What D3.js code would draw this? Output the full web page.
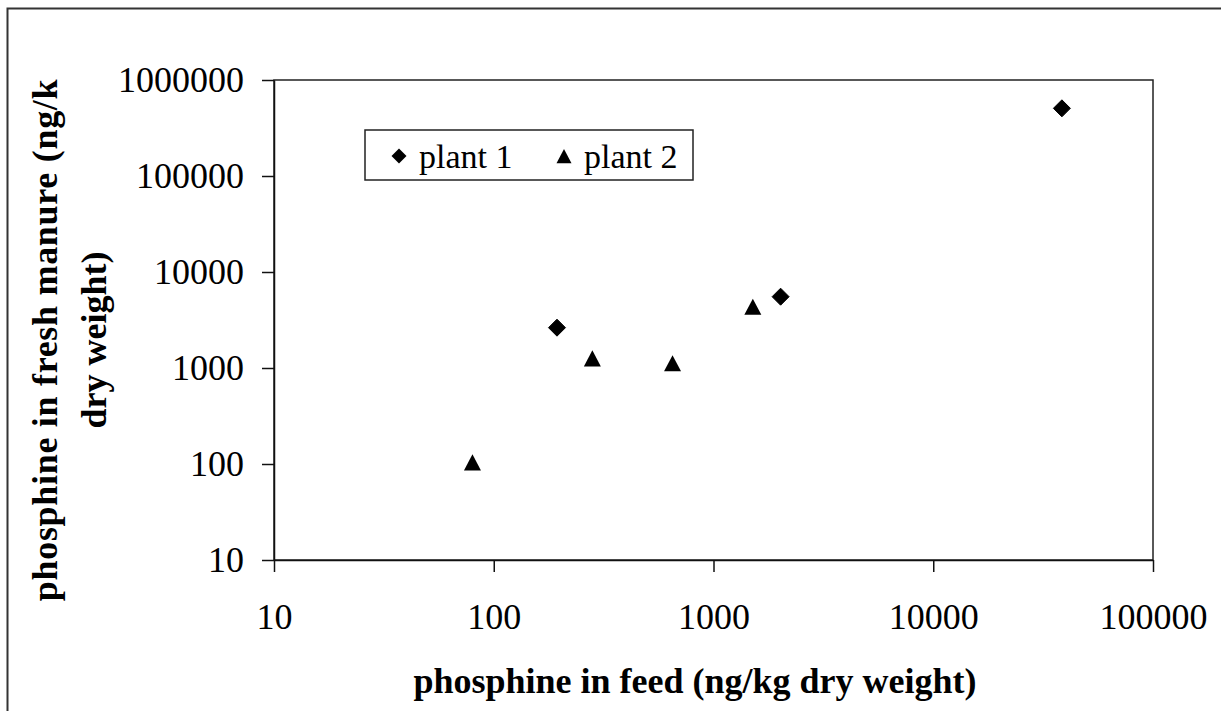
<!DOCTYPE html>
<html>
<head>
<meta charset="utf-8">
<script src="https://cdn.jsdelivr.net/npm/d3@7"></script>
<style>
  body { margin: 0; background: #fff; }
  svg { display: block; }
  text { font-family: "Liberation Serif", "Times New Roman", serif; fill: #000; }
</style>
</head>
<body>
<div class="canvas"></div>
<script>
// data
const plant1Feed = [194, 2020, 38500];
const plant1Manure = [2630, 5530, 507000];
const plant2Feed = [80, 281, 651, 1510];
const plant2Manure = [104, 1260, 1120, 4350];
const seriesNames = ['plant 1', 'plant 2'];
const xTicks = [10, 100, 1000, 10000, 100000];
const yTicks = [10, 100, 1000, 10000, 100000, 1000000];
const xTitle = 'phosphine in feed (ng/kg dry weight)';
const yTitleLines = ['phosphine in fresh manure (ng/k', 'dry weight)'];

const svgDims = { width: 1221, height: 711 };
const margin = { top: 80, right: 68, bottom: 151, left: 274 };
const graphWidth = svgDims.width - margin.left - margin.right;
const graphHeight = svgDims.height - margin.top - margin.bottom;

const svg = d3.select('.canvas')
    .append('svg')
    .attr('width', svgDims.width)
    .attr('height', svgDims.height);

// outer chart frame (right/bottom run off the picture)
svg.append('rect')
    .attr('x', 7.5).attr('y', 8.5)
    .attr('width', 1300).attr('height', 800)
    .attr('fill', 'none')
    .attr('stroke', '#333')
    .attr('stroke-width', 2);

const graph = svg.append('g')
    .attr('transform', `translate(${margin.left}, ${margin.top})`);

const x = d3.scaleLog().domain([10, 100000]).range([0, graphWidth]);
const y = d3.scaleLog().domain([10, 1000000]).range([graphHeight, 0]);

// plot frame
graph.append('rect')
    .attr('width', graphWidth)
    .attr('height', graphHeight)
    .attr('fill', 'none')
    .attr('stroke', '#222')
    .attr('stroke-width', 1.5);

const xAxis = d3.axisBottom(x)
    .tickValues(xTicks)
    .tickFormat(d3.format('d'))
    .tickSize(12)
    .tickSizeOuter(0)
    .tickPadding(31);
const yAxis = d3.axisLeft(y)
    .tickValues(yTicks)
    .tickFormat(d3.format('d'))
    .tickSize(12)
    .tickSizeOuter(0)
    .tickPadding(18);

const xAxisGroup = graph.append('g')
    .attr('transform', `translate(0, ${graphHeight})`)
    .call(xAxis);
const yAxisGroup = graph.append('g')
    .call(yAxis);

[xAxisGroup, yAxisGroup].forEach(g => {
    g.selectAll('path, line').attr('stroke', '#111').attr('stroke-width', 1.5);
    g.selectAll('text')
        .style('font-family', '"Liberation Serif", "Times New Roman", serif')
        .style('font-size', '36px')
        .attr('fill', '#000');
});

// marker shapes: square turned 45deg, bbox-centred triangle
const diamond = {
    draw(ctx, size) {
        const r = Math.sqrt(size) / 2;
        ctx.moveTo(0, -r); ctx.lineTo(r, 0); ctx.lineTo(0, r); ctx.lineTo(-r, 0); ctx.closePath();
    }
};
const triangle = {
    draw(ctx, size) {
        const w = Math.sqrt(size);
        const h = w * 0.95;
        ctx.moveTo(0, -h / 2); ctx.lineTo(w / 2, h / 2); ctx.lineTo(-w / 2, h / 2); ctx.closePath();
    }
};

const plant1 = plant1Feed.map((f, i) => ({ feed: f, manure: plant1Manure[i] }));
const plant2 = plant2Feed.map((f, i) => ({ feed: f, manure: plant2Manure[i] }));

graph.selectAll('path.p1')
    .data(plant1)
    .enter().append('path')
        .attr('class', 'p1')
        .attr('d', d3.symbol().type(diamond).size(17 * 17))
        .attr('transform', d => `translate(${x(d.feed)}, ${y(d.manure)})`)
        .attr('fill', '#000')
        .attr('stroke', '#000').attr('stroke-width', 1).attr('stroke-linejoin', 'round');

graph.selectAll('path.p2')
    .data(plant2)
    .enter().append('path')
        .attr('class', 'p2')
        .attr('d', d3.symbol().type(triangle).size(17 * 17))
        .attr('transform', d => `translate(${x(d.feed)}, ${y(d.manure)})`)
        .attr('fill', '#000');

// legend
const legend = svg.append('g').attr('transform', 'translate(365, 130)');
legend.append('rect')
    .attr('width', 328).attr('height', 50)
    .attr('fill', '#fff')
    .attr('stroke', '#222').attr('stroke-width', 1.5);
const legendItems = [
    { name: seriesNames[0], type: diamond, x: 34 },
    { name: seriesNames[1], type: triangle, x: 199 }
];
legendItems.forEach(item => {
    legend.append('path')
        .attr('d', d3.symbol().type(item.type).size(15 * 15))
        .attr('transform', `translate(${item.x}, 26)`)
        .attr('fill', '#000');
    legend.append('text')
        .attr('x', item.x + 20).attr('y', 26)
        .attr('dy', '0.35em')
        .style('font-size', '34px')
        .text(item.name);
});

// axis titles
svg.append('text')
    .attr('x', 695).attr('y', 680)
    .attr('dy', '0.35em')
    .attr('text-anchor', 'middle')
    .style('font-size', '36px')
    .style('font-weight', 'bold')
    .text(xTitle);

yTitleLines.forEach((line, i) => {
    svg.append('text')
        .attr('transform', `translate(${44 + i * 49}, 340) rotate(-90)`)
        .attr('dy', '0.35em')
        .attr('text-anchor', 'middle')
        .style('font-size', '36px')
        .style('font-weight', 'bold')
        .style('letter-spacing', i === 0 ? '0.7px' : '0px')
        .text(line);
});
</script>
</body>
</html>
